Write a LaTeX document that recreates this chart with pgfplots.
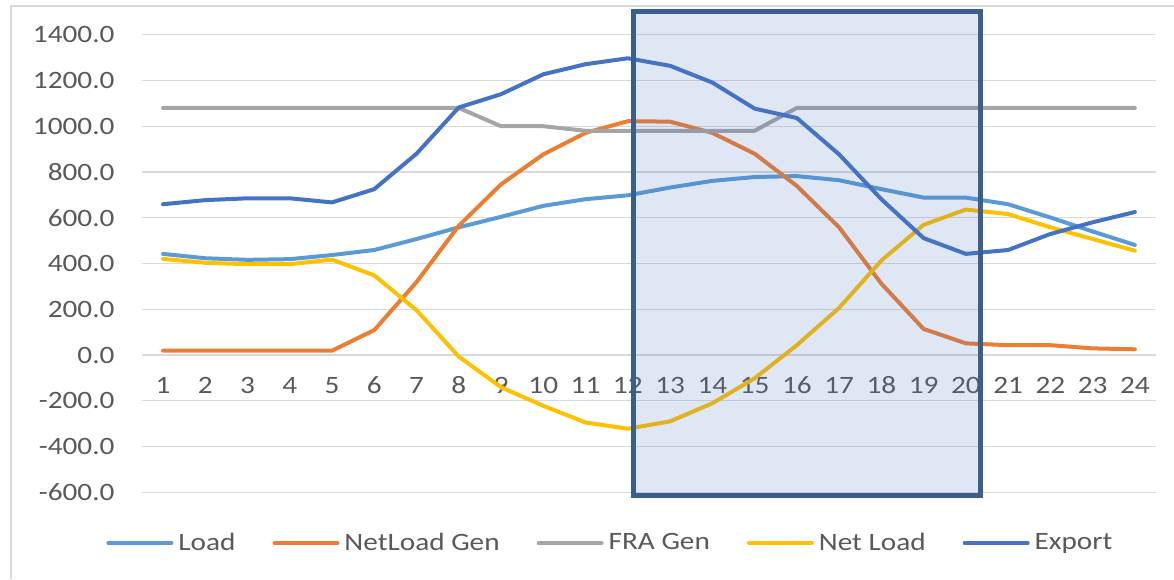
\documentclass[border=0pt]{standalone}
\usepackage{fontspec}
\setmainfont{Carlito}[FakeStretch=1.17]
\usepackage{pgfplots}
\pgfplotsset{compat=1.18}
\definecolor{cLoad}{HTML}{5B9BD5}
\definecolor{cNLG}{HTML}{ED7D31}
\definecolor{cFRA}{HTML}{A5A5A5}
\definecolor{cNet}{HTML}{FFC000}
\definecolor{cExp}{HTML}{4472C4}
\definecolor{gridc}{HTML}{D9D9D9}
\definecolor{textc}{HTML}{595959}
\definecolor{rectb}{HTML}{3A5F8B}
\begin{document}
\begin{tikzpicture}
\begin{axis}[
  scale only axis, width=507.05pt, height=228.8pt,
  xmin=0.5, xmax=24.5, ymin=-600, ymax=1400,
  clip=false,
  axis line style={draw=none},
  tick style={draw=none},
  ymajorgrids, grid style={color=gridc, line width=0.7pt},
  ytick={-600,-400,...,1400},
  yticklabels={-600.0,-400.0,-200.0,0.0,200.0,400.0,600.0,800.0,1000.0,1200.0,1400.0},
  yticklabel style={anchor=east, inner sep=0pt, xshift=-13.5pt},
  xtick={1,2,...,24},
  xticklabels={1,2,3,4,5,6,7,8,9,10,11,12,13,14,15,16,17,18,19,20,21,22,23,24},
  xticklabel style={anchor=center, inner sep=0pt, yshift=53.4pt},
  ticklabel style={font=\fontsize{12.5}{15}\selectfont, text=textc},
  every axis plot/.append style={line width=2pt, line join=round, line cap=round, mark=none},
  legend columns=5,
  legend style={at={(-0.0354,-0.1108)}, anchor=west, draw=none, fill=none, inner sep=0pt,
    font=\fontsize{12.5}{15}\selectfont, text=textc,
    nodes={inner sep=0pt, anchor=west},
    /tikz/every odd column/.append style={column sep=2.5pt},
    /tikz/every even column/.append style={column sep=18.5pt}},
  legend image code/.code={\draw[#1] (0pt,0pt) -- (31.5pt,0pt);},
]
\addplot[cLoad] coordinates {(1,442)(2,423)(3,416)(4,419)(5,437)(6,459)(7,507)(8,558)(9,604)(10,652)(11,681)(12,698)(13,732)(14,761)(15,778)(16,782)(17,764)(18,725)(19,688)(20,688)(21,659)(22,601)(23,540)(24,481)};
\addlegendentry{Load}
\addplot[cNLG] coordinates {(1,19)(2,19)(3,19)(4,19)(5,19)(6,109)(7,319)(8,565)(9,746)(10,877)(11,971)(12,1022)(13,1020)(14,971)(15,880)(16,739)(17,558)(18,312)(19,114)(20,51)(21,43)(22,43)(23,29)(24,25)};
\addlegendentry{NetLoad Gen}
\addplot[cFRA] coordinates {(1,1080)(2,1080)(3,1080)(4,1080)(5,1080)(6,1080)(7,1080)(8,1080)(9,1000)(10,1000)(11,980)(12,980)(13,980)(14,980)(15,980)(16,1080)(17,1080)(18,1080)(19,1080)(20,1080)(21,1080)(22,1080)(23,1080)(24,1080)};
\addlegendentry{FRA Gen}
\addplot[cNet] coordinates {(1,420)(2,403)(3,397)(4,397)(5,417)(6,348)(7,196)(8,-7)(9,-141)(10,-222)(11,-295)(12,-322)(13,-290)(14,-211)(15,-102)(16,43)(17,206)(18,413)(19,569)(20,636)(21,616)(22,558)(23,507)(24,456)};
\addlegendentry{Net Load}
\addplot[cExp] coordinates {(1,659)(2,677)(3,685)(4,685)(5,667)(6,725)(7,880)(8,1082)(9,1140)(10,1227)(11,1271)(12,1297)(13,1264)(14,1191)(15,1077)(16,1036)(17,877)(18,681)(19,511)(20,442)(21,459)(22,529)(23,580)(24,625)};
\addlegendentry{Export}
\draw[draw=rectb, line width=2.5pt, fill=cExp, fill opacity=0.17] (axis cs:12.13,-612) rectangle (axis cs:20.35,1503);
\end{axis}
\draw[color=gridc, line width=0.9pt] (-65.6pt,-43.35pt) -- (-65.6pt,243.15pt) -- (516.05pt,243.15pt);
\pgfresetboundingbox
\useasboundingbox (-70.95pt,-43.35pt) rectangle (516.05pt,246.15pt);
\end{tikzpicture}
\end{document}
